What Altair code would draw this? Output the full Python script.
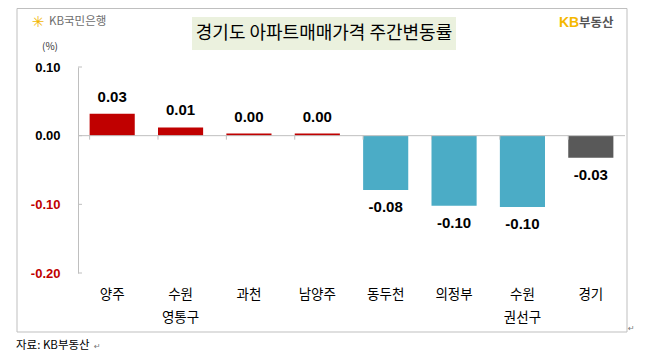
import altair as alt
import pandas as pd

categories = ["양주", "수원\n영통구", "과천", "남양주", "동두천", "의정부", "수원\n권선구", "경기"]
values = [0.032, 0.012, 0.003, 0.003, -0.079, -0.102, -0.104, -0.032]
value_labels = ["0.03", "0.01", "0.00", "0.00", "-0.08", "-0.10", "-0.10", "-0.03"]
bar_colors = ["#C00000", "#C00000", "#C00000", "#C00000", "#4BACC6", "#4BACC6", "#4BACC6", "#595959"]
y_ticks = [0.1, 0.0, -0.1, -0.2]
title_text = "경기도 아파트매매가격 주간변동률"
unit_text = "(%)"
source_text = "자료: KB부동산"

W, H = 547, 206
KFONT = "Noto Sans CJK KR"
NFONT = "Liberation Sans"

df = pd.DataFrame({"cat": categories, "value": values, "label": value_labels, "color": bar_colors})
tick_df = pd.DataFrame({"value": y_ticks})
one = pd.DataFrame({"a": [0]})

xscale = alt.Scale(paddingInner=0.34, paddingOuter=0.17)
yscale = alt.Scale(domain=[-0.2, 0.1], nice=False, zero=False)

x_axis = alt.Axis(title=None, domain=False, ticks=False, labelAngle=0,
                  labelExpr="split(datum.label, '\\n')", labelFont=KFONT,
                  labelFontSize=13.5, labelColor="black", labelLineHeight=23,
                  labelBaseline="top", labelPadding=14)
y_axis = alt.Axis(title=None, values=y_ticks, grid=False, ticks=False,
                  domainColor="#BFBFBF", labelPadding=18, labelFont=NFONT,
                  labelFontSize=13, labelFontWeight="bold",
                  labelExpr="replace(format(datum.value, '.2f'), '\u2212', '-')",
                  labelColor={"condition": {"test": "datum.value < 0", "value": "#C00000"}, "value": "black"})


def xe(**kw):
    return alt.X("cat:N", sort=categories, scale=xscale, axis=x_axis, **kw)


def ye():
    return alt.Y("value:Q", scale=yscale, axis=y_axis)


base = alt.Chart(df)

# decorations: outer frame and title box
frame = alt.Chart(one).mark_rect(fill="transparent", stroke="#BFBFBF", strokeWidth=1).encode(
    x=alt.value(-61), x2=alt.value(549), y=alt.value(-58.5), y2=alt.value(265))
title_box = alt.Chart(one).mark_rect(fill="#EBF1DE").encode(
    x=alt.value(114), x2=alt.value(378), y=alt.value(-50), y2=alt.value(-17))
title = alt.Chart(one).mark_text(text=title_text, font=KFONT, fontSize=18, color="black",
                                 align="center", baseline="middle").encode(
    x=alt.value(246), y=alt.value(-33.5))

bars = base.mark_bar().encode(
    x=xe(), y=ye(), y2=alt.datum(0),
    color=alt.Color("color:N", scale=None))

zero_line = alt.Chart(one).mark_rule(color="#BFBFBF", strokeWidth=1).encode(
    y=alt.datum(0), x=alt.value(0), x2=alt.value(W))
ytick_marks = alt.Chart(tick_df).mark_rule(color="#BFBFBF").encode(
    y=ye(), x=alt.value(0), x2=alt.value(4))
xtick_marks = base.mark_rule(color="#BFBFBF").encode(
    x=xe(bandPosition=0), y=alt.datum(0), y2=alt.value(H / 3 + 4))

pos_text = base.transform_filter("datum.value >= 0").mark_text(
    font=NFONT, fontSize=15, fontWeight="bold", color="black", baseline="middle", dy=-17
).encode(x=xe(), y=ye(), text="label:N")
neg_text = base.transform_filter("datum.value < 0").mark_text(
    font=NFONT, fontSize=15, fontWeight="bold", color="black", baseline="middle", dy=17
).encode(x=xe(), y=ye(), text="label:N")

# logos and notes
kb_star = alt.Chart(one).mark_text(text="✳", font="DejaVu Sans", fontSize=15, color="#F2B705",
                                   align="center", baseline="middle").encode(x=alt.value(-40), y=alt.value(-45))
kb_bank = alt.Chart(one).mark_text(text="KB국민은행", font=KFONT, fontSize=11.5, color="#6E6E6E",
                                   align="left", baseline="middle").encode(x=alt.value(-29), y=alt.value(-45))
unit = alt.Chart(one).mark_text(text=unit_text, font=KFONT, fontSize=10, color="#333333",
                                align="center", baseline="middle").encode(x=alt.value(-28), y=alt.value(-20))
kb_logo1 = alt.Chart(one).mark_text(text="KB", font=NFONT, fontSize=14, fontWeight="bold", color="#F5B800",
                                    align="left", baseline="middle").encode(x=alt.value(481), y=alt.value(-44))
kb_logo2 = alt.Chart(one).mark_text(text="부동산", font=KFONT, fontSize=12.5, fontWeight="bold", color="#555555",
                                    align="left", baseline="middle").encode(x=alt.value(501), y=alt.value(-44))
source = alt.Chart(one).mark_text(text=source_text, font=KFONT, fontSize=11.5, color="black",
                                  align="left", baseline="middle").encode(x=alt.value(-62), y=alt.value(279))
pmark1 = alt.Chart(one).mark_text(text="↵", font="DejaVu Sans", fontSize=8, color="#777777",
                                  align="left", baseline="middle").encode(x=alt.value(16), y=alt.value(280))
pmark2 = alt.Chart(one).mark_text(text="↵", font="DejaVu Sans", fontSize=8, color="#777777",
                                  align="left", baseline="middle").encode(x=alt.value(550), y=alt.value(262))

chart = alt.layer(
    frame, title_box, title, bars, zero_line, ytick_marks, xtick_marks, pos_text, neg_text,
    kb_star, kb_bank, unit, kb_logo1, kb_logo2, source, pmark1, pmark2
).properties(
    width=W, height=H,
    autosize=alt.AutoSizeParams(type="none"),
    padding={"left": 70, "top": 59, "right": 16, "bottom": 82},
    background="white",
).configure_view(stroke=None)

chart.save("out.html", embed_options={"renderer": "svg", "actions": False})
